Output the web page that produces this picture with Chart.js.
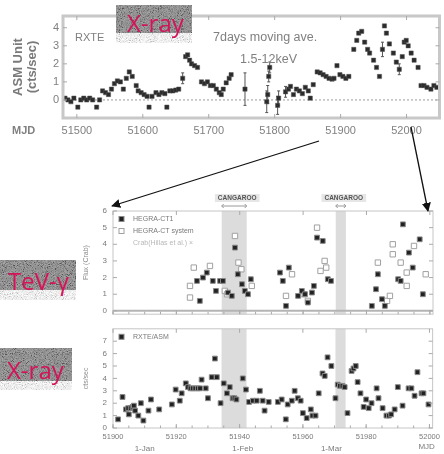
<!DOCTYPE html>
<html>
<head>
<meta charset="utf-8">
<script src="https://cdn.jsdelivr.net/npm/chart.js@4.4.1/dist/chart.umd.min.js"></script>
<style>
  body { margin: 0; background: #fff; }
  #page { position: relative; width: 444px; height: 454px; overflow: hidden; font-family: 'Liberation Sans', Arial, sans-serif; }
  canvas { position: absolute; left: 0; }
  .tag { position: absolute; overflow: hidden; background: #bbb; }
  .tag svg { position: absolute; left: 0; top: 0; width: 100%; height: 100%; }
  .tag .shade {
    position: absolute; left: 0; top: 0; right: 0; bottom: 0;
    background: linear-gradient(to bottom, rgba(125,125,125,.68) 0, rgba(125,125,125,.68) var(--cut), rgba(255,255,255,.75) var(--cut));
  }
  .tag span { position: absolute; color: #d4145a; font-family: 'Open Sans', sans-serif; font-size: 24px; line-height: 1; white-space: nowrap; }
  .note { position: absolute; color: #808080; white-space: nowrap; line-height: 1; }
  #arrows { position: absolute; left: 0; top: 0; }
</style>
</head>
<body>
<div id="page">
  <canvas id="asm" width="444" height="142" style="top:0"></canvas>
  <canvas id="tev" width="444" height="135" style="top:190px"></canvas>
  <canvas id="xte" width="444" height="136" style="top:318px"></canvas>

  <div class="note" style="left:12px;top:125px;font-size:11px;font-weight:bold">MJD</div>
  <div class="note" style="left:75px;top:32px;font-size:11px">RXTE</div>
  <div class="note" style="left:213px;top:31px;font-size:12.5px">7days moving ave.</div>
  <div class="note" style="left:240px;top:53px;font-size:12.5px">1.5-12keV</div>

  <div class="tag" style="left:116px;top:5px;width:76px;height:38px;--cut:74%">
    <svg><filter id="nz1"><feTurbulence type="fractalNoise" baseFrequency="1.1" numOctaves="2" seed="3"></feTurbulence><feColorMatrix type="matrix" values="2.2 0 0 0 -0.6 2.2 0 0 0 -0.6 2.2 0 0 0 -0.6 0 0 0 0 1"></feColorMatrix></filter><rect width="100%" height="100%" filter="url(#nz1)"></rect></svg>
    <div class="shade"></div><span style="left:11px;top:6px">X-ray</span>
  </div>
  <div class="tag" style="left:0;top:260px;width:76px;height:40px;--cut:75%">
    <svg><filter id="nz2"><feTurbulence type="fractalNoise" baseFrequency="1.1" numOctaves="2" seed="5"></feTurbulence><feColorMatrix type="matrix" values="2.2 0 0 0 -0.6 2.2 0 0 0 -0.6 2.2 0 0 0 -0.6 0 0 0 0 1"></feColorMatrix></filter><rect width="100%" height="100%" filter="url(#nz2)"></rect></svg>
    <div class="shade"></div><span style="left:8px;top:9px">TeV-γ</span>
  </div>
  <div class="tag" style="left:0;top:348px;width:72px;height:42px;--cut:79%">
    <svg><filter id="nz3"><feTurbulence type="fractalNoise" baseFrequency="1.1" numOctaves="2" seed="7"></feTurbulence><feColorMatrix type="matrix" values="2.2 0 0 0 -0.6 2.2 0 0 0 -0.6 2.2 0 0 0 -0.6 0 0 0 0 1"></feColorMatrix></filter><rect width="100%" height="100%" filter="url(#nz3)"></rect></svg>
    <div class="shade"></div><span style="left:7px;top:10px">X-ray</span>
  </div>

  <svg id="arrows" width="444" height="454">
    <defs>
      <marker id="ah" viewBox="0 0 10 10" refX="9" refY="5" markerWidth="7" markerHeight="7" orient="auto">
        <path d="M0,0 L10,5 L0,10 z" fill="#111"></path>
      </marker>
    </defs>
    <line x1="319" y1="141" x2="112" y2="206" stroke="#111" stroke-width="1.3" marker-end="url(#ah)"></line>
    <line x1="411" y1="127" x2="428" y2="211" stroke="#111" stroke-width="1.3" marker-end="url(#ah)"></line>
  </svg>
</div>

<script>
// RXTE/ASM 7-day moving average (top panel)
const asmXTicks = [51500, 51600, 51700, 51800, 51900, 52000];
const asmYTicks = [0, 1, 2, 3, 4];
const asmMjd = [51482, 51486.5, 51491, 51495.5, 51501.5, 51506, 51510.5, 51515, 51519.5, 51524,
  51530, 51534.5, 51539, 51543.5, 51548, 51552.5, 51557, 51561.5, 51566, 51570.5,
  51575, 51579.5, 51584, 51590, 51593, 51597.5, 51602, 51606.5, 51609.5, 51614,
  51620, 51624.5, 51629, 51633.5, 51636.5, 51641, 51645.5, 51650, 51654.5, 51660.5,
  51665, 51668, 51671, 51674, 51678.5, 51683, 51689, 51693.5, 51698, 51702.5,
  51707, 51711.5, 51716, 51719, 51722, 51726.5, 51731, 51734, 51755, 51788,
  51789.5, 51791, 51792.5, 51804.5, 51806, 51816.5, 51821, 51824, 51828.5, 51833,
  51837.5, 51842, 51846.5, 51851, 51854, 51858.5, 51864.5, 51869, 51873.5, 51878,
  51882.5, 51887, 51890, 51894.5, 51899, 51903.5, 51908, 51912.5, 51920, 51924.5,
  51927.5, 51932, 51936.5, 51941, 51944, 51950, 51954.5, 51959, 51963.5, 51966.5,
  51969.5, 51974, 51980, 51984.5, 51989, 51993.5, 51996.5, 51999.5, 52002.5, 52007,
  52011.5, 52017.5, 52022, 52026.5, 52031, 52037, 52041.5, 52046];
const asmRate = [0.1, 0.0, -0.1, 0.1, -0.4, 0.0, 0.1, 0.0, 0.1, 0.0,
  -0.4, 0.0, 0.5, 0.4, 0.3, 0.6, 0.9, 1.05, 1.0, 0.6,
  1.2, 1.55, 1.3, 0.8, 0.5, 0.4, 0.3, 0.2, -0.4, 0.2,
  0.4, 0.3, 0.4, 0.35, -0.4, 0.5, 0.5, 0.55, 0.6, 1.2,
  2.4, 2.5, 2.2, 2.0, 1.9, 1.8, 1.0, 0.9, 1.0, 0.8,
  0.8, 0.6, 0.4, 0.3, 0.6, 0.95, 1.2, 1.4, 0.6, -0.1,
  0.3, 1.3, 1.8, -0.3, 0.1, 0.45, 0.6, 0.75, 0.3, 0.6,
  0.5, 0.35, 0.7, 0.5, 0.1, 0.85, 1.55, 1.5, 1.4, 1.3,
  1.2, 1.15, 1.2, 1.9, 1.4, 1.3, 1.2, 1.3, 2.8, 3.3,
  3.7, 3.8, 3.2, 2.8, 2.6, 2.2, 1.8, 1.3, 2.8, 4.1,
  3.7, 3.1, 2.6, 2.1, 1.7, 2.4, 3.2, 3.3, 3.0, 2.6,
  2.2, 1.8, 0.8, 0.8, 0.7, 0.6, 0.8, 0.7];
const asmErr = [0, 0, 0, 0, 0, 0, 0, 0, 0, 0,
  0, 0, 0, 0, 0, 0, 0, 0, 0, 0,
  0, 0, 0, 0, 0, 0, 0, 0, 0, 0,
  0, 0, 0, 0, 0, 0, 0, 0, 0, 0.3,
  0, 0, 0, 0, 0, 0, 0, 0, 0, 0,
  0, 0, 0, 0, 0, 0, 0, 0, 0.9, 0.6,
  0.5, 0.3, 0.3, 0.5, 0.4, 0.3, 0, 0, 0, 0,
  0, 0, 0, 0, 0, 0, 0, 0, 0, 0,
  0, 0, 0, 0, 0, 0, 0, 0, 0, 0,
  0, 0, 0, 0, 0, 0, 0, 0, 0.4, 0,
  0, 0, 0, 0, 0.3, 0, 0, 0, 0, 0,
  0, 0, 0, 0, 0, 0, 0, 0];

// TeV / X-ray comparison (lower panels)
const mjdTicks = [51900, 51920, 51940, 51960, 51980, 52000];
const tevTicks = [0, 1, 2, 3, 4, 5, 6];
const xteTicks = [0, 1, 2, 3, 4, 5, 6, 7];
const monthMjd = [51910, 51941, 51969];
const monthNames = ['1-Jan', '1-Feb', '1-Mar'];

const bandStart = [51934.3, 51970.3];
const bandEnd = [51942.2, 51973.5];
const bandNames = ['CANGAROO', 'CANGAROO'];

const ct1Mjd = [51926.5, 51927.4, 51928.4, 51929.6, 51931.5, 51932.5, 51933.8, 51934.7, 51936.3, 51937.5,
  51938.5, 51939.4, 51940.7, 51941.6, 51942.6, 51943.5, 51952.7, 51953.6, 51954.6, 51955.5,
  51958.4, 51959.6, 51960.6, 51961.5, 51962.8, 51963.4, 51964.4, 51966.2, 51967.8, 51968.8,
  51981.7, 51983.0, 51983.6, 51984.9, 51985.8, 51990.0, 51990.8, 51991.5, 51993.4, 51994.6,
  51996.8, 51997.8];
const ct1Flux = [1.8, 0.6, 2.0, 2.3, 1.8, 1.2, 1.8, 1.8, 1.1, 0.9,
  3.8, 2.2, 1.6, 1.2, 1.0, 1.9, 2.3, 1.8, 0.3, 2.6,
  0.9, 1.2, 1.0, 0.5, 1.1, 1.5, 4.4, 4.2, 1.9, 1.8,
  0.3, 1.3, 2.2, 0.7, 0.3, 1.9, 1.8, 5.2, 3.5, 2.6,
  4.3, 1.0];
const ctsMjd = [51924.3, 51924.3, 51925.5, 51930.6, 51935.3, 51936.0, 51938.5, 51939.6, 51940.5, 51943.8,
  51954.6, 51956.5, 51960.2, 51961.5, 51964.4, 51965.5, 51966.8, 51967.3, 51983.6, 51986.5,
  51987.4, 51988.3, 51988.3, 51990.8, 51992.7, 51992.7, 51995.0, 51998.7];
const ctsFlux = [0.8, 1.5, 2.6, 2.7, 1.2, 1.0, 4.5, 2.9, 2.5, 1.5,
  0.9, 2.2, 1.0, 0.6, 5.0, 2.4, 3.0, 2.6, 2.9, 0.6,
  0.9, 3.4, 4.0, 2.9, 1.5, 2.3, 3.9, 2.2];

const xteMjd = [51901.6, 51903, 51904.1, 51904.8, 51905, 51905.6, 51906.2, 51906.6, 51907, 51908,
  51908.8, 51909.6, 51911.2, 51912, 51914.6, 51918.6, 51919.8, 51921.1, 51921.7, 51923,
  51923.7, 51924.5, 51925.2, 51926, 51926.8, 51927.5, 51928, 51929.3, 51930, 51931.2,
  51932.2, 51932.8, 51934, 51935, 51936, 51936.9, 51937.8, 51938.4, 51939, 51941,
  51942, 51943, 51944.2, 51945.4, 51946.4, 51947.3, 51947.9, 51949.2, 51952.1, 51953.3,
  51954.6, 51955.2, 51956.5, 51957.4, 51958.4, 51959.3, 51960, 51961.2, 51962.5, 51963,
  51964, 51965, 51966.2, 51966.9, 51967.8, 51969, 51970.3, 51971, 51971.7, 51972.5,
  51973.2, 51974.1, 51975.4, 51976, 51976.7, 51977.3, 51978.2, 51979.2, 51980, 51980.8,
  51981.7, 51983.3, 51983.9, 51985.2, 51986.4, 51987.2, 51987.9, 51989, 51990, 51991.5,
  51993.4, 51994.3, 51995.3, 51996.2, 51997.5, 51998.1, 51999.7];
const xteRate = [0.7, 2.5, 1.5, 1.6, 1.1, 1.6, 1.7, 1.8, 1.4, 1.0,
  2.0, 0.6, 1.4, 2.3, 1.5, 1.9, 3.1, 2.2, 2.8, 3.6,
  3.3, 3.2, 3.2, 3.2, 3.2, 3.2, 3.9, 3.2, 2.4, 4.1,
  5.6, 4.1, 2.0, 3.6, 2.8, 3.3, 2.4, 2.4, 2.3, 4.0,
  3.1, 2.1, 2.2, 2.2, 3.0, 2.2, 1.4, 2.1, 2.1, 2.3,
  0.7, 1.9, 2.2, 3.0, 2.4, 2.2, 1.2, 0.8, 1.5, 1.0,
  1.0, 2.8, 4.4, 4.2, 5.7, 5.0, 2.4, 3.5, 3.4, 3.4,
  3.3, 1.2, 4.6, 4.8, 5.0, 3.7, 2.8, 1.7, 2.3, 1.6,
  2.0, 3.2, 2.4, 1.6, 1.0, 1.0, 1.1, 1.5, 3.3, 1.8,
  3.2, 3.2, 2.6, 4.5, 2.8, 2.8, 1.9];

const toPoints = (xs, ys) => xs.map((x, i) => ({ x, y: ys[i] }));
const setTicks = (list) => (scale) => { scale.ticks = list.map((value) => ({ value })); };
const plainLabel = (value) => String(value);

// frame, inner ticks, bands, error bars and the in-panel legends
const panelPlugin = {
  id: 'panel',
  beforeDatasetsDraw(chart, args, opts) {
    const { ctx, chartArea: a, scales: { x, y } } = chart;
    ctx.save();

    (opts.bands ? bandStart : []).forEach((start, i) => {
      const x0 = x.getPixelForValue(start);
      const x1 = x.getPixelForValue(bandEnd[i]);
      ctx.fillStyle = '#dcdcdc';
      ctx.fillRect(x0, a.top, x1 - x0, a.bottom - a.top);
    });

    if (opts.zero === 'dotted') {
      ctx.strokeStyle = '#9a9a9a';
      ctx.lineWidth = 1;
      ctx.setLineDash([2, 2]);
      ctx.beginPath();
      ctx.moveTo(a.left, y.getPixelForValue(0));
      ctx.lineTo(a.right, y.getPixelForValue(0));
      ctx.stroke();
      ctx.setLineDash([]);
    } else if (opts.zero === 'solid') {
      ctx.strokeStyle = '#b4b4b4';
      ctx.lineWidth = 2;
      ctx.beginPath();
      ctx.moveTo(a.left, y.getPixelForValue(0));
      ctx.lineTo(a.right, y.getPixelForValue(0));
      ctx.stroke();
    }

    if (opts.errors) {
      const meta = chart.getDatasetMeta(0);
      ctx.strokeStyle = '#555';
      ctx.lineWidth = 1;
      opts.errors.forEach((err, i) => {
        if (!err) return;
        const px = meta.data[i].x;
        const yTop = y.getPixelForValue(asmRate[i] + err);
        const yBot = y.getPixelForValue(asmRate[i] - err);
        ctx.beginPath();
        ctx.moveTo(px, yTop);
        ctx.lineTo(px, yBot);
        ctx.moveTo(px - 1.5, yTop);
        ctx.lineTo(px + 1.5, yTop);
        ctx.moveTo(px - 1.5, yBot);
        ctx.lineTo(px + 1.5, yBot);
        ctx.stroke();
      });
    }
    ctx.restore();
  },
  afterDatasetsDraw(chart, args, opts) {
    const { ctx, chartArea: a, scales: { x, y } } = chart;
    ctx.save();

    // frame
    ctx.strokeStyle = opts.frameColor || '#c6c6c6';
    ctx.lineWidth = opts.frameWidth || 1;
    ctx.strokeRect(a.left, a.top, a.right - a.left, a.bottom - a.top);

    // inner tick marks
    ctx.strokeStyle = '#aaa';
    ctx.lineWidth = 1;
    ctx.beginPath();
    y.ticks.forEach((t) => {
      const py = y.getPixelForValue(t.value);
      ctx.moveTo(a.left, py);
      ctx.lineTo(a.left + 4, py);
      ctx.moveTo(a.right, py);
      ctx.lineTo(a.right - 4, py);
    });
    x.ticks.forEach((t) => {
      const px = x.getPixelForValue(t.value);
      ctx.moveTo(px, a.top);
      ctx.lineTo(px, a.top + 4);
      ctx.moveTo(px, a.bottom);
      ctx.lineTo(px, a.bottom - 4);
    });
    if (opts.minorStep) {
      for (let v = x.ticks[0].value; v < x.max; v += opts.minorStep) {
        const px = x.getPixelForValue(v);
        ctx.moveTo(px, a.bottom);
        ctx.lineTo(px, a.bottom - 2.5);
      }
    }
    ctx.stroke();

    // legend inside the panel (only datasets that carry a label)
    ctx.font = '7px "Liberation Sans", Arial, sans-serif';
    ctx.textBaseline = 'middle';
    let row = a.top + 8;
    chart.data.datasets.filter((ds) => ds.label).forEach((ds) => {
      ctx.fillStyle = ds.backgroundColor;
      ctx.strokeStyle = ds.borderColor;
      ctx.fillRect(a.left + 6, row - 2.5, 5, 5);
      ctx.strokeRect(a.left + 6, row - 2.5, 5, 5);
      ctx.fillStyle = '#7a7a7a';
      ctx.fillText(ds.label, a.left + 20, row);
      row += 12;
    });
    if (opts.extraLegend) {
      ctx.fillStyle = '#b8b8b8';
      ctx.fillText(opts.extraLegend, a.left + 20, row);
    }

    // observation windows above the TeV panel
    if (opts.bandLabels) {
      ctx.textAlign = 'center';
      ctx.font = 'bold 6.5px "Liberation Sans", Arial, sans-serif';
      bandNames.forEach((name, i) => {
        const x0 = x.getPixelForValue(bandStart[i]);
        const x1 = x.getPixelForValue(bandEnd[i]);
        const cx = (x0 + x1) / 2 + 3;
        const w = ctx.measureText(name).width + 6;
        ctx.fillStyle = '#e6e6e6';
        ctx.fillRect(cx - w / 2, a.top - 17, w, 8);
        ctx.fillStyle = '#555';
        ctx.fillText(name, cx, a.top - 13);
        ctx.strokeStyle = '#999';
        ctx.beginPath();
        ctx.moveTo(x0, a.top - 5);
        ctx.lineTo(x1, a.top - 5);
        ctx.moveTo(x0 + 2, a.top - 7);
        ctx.lineTo(x0, a.top - 5);
        ctx.lineTo(x0 + 2, a.top - 3);
        ctx.moveTo(x1 - 2, a.top - 7);
        ctx.lineTo(x1, a.top - 5);
        ctx.lineTo(x1 - 2, a.top - 3);
        ctx.stroke();
      });
    }

    // calendar dates under the MJD axis
    if (opts.months) {
      ctx.textAlign = 'center';
      ctx.fillStyle = '#7a7a7a';
      ctx.font = '8px "Liberation Sans", Arial, sans-serif';
      monthNames.forEach((name, i) => {
        ctx.fillText(name, x.getPixelForValue(monthMjd[i]), a.bottom + 21);
      });
      ctx.fillText('MJD', a.right - 6, a.bottom + 19);
    }
    ctx.restore();
  },
};

const baseOptions = (extra) => ({
  responsive: false,
  animation: false,
  devicePixelRatio: 1,
  plugins: {
    legend: { display: false },
    tooltip: { enabled: false },
    ...extra.plugins,
  },
  layout: extra.layout,
  scales: extra.scales,
});

new Chart(document.getElementById('asm'), {
  type: 'scatter',
  plugins: [panelPlugin],
  data: {
    datasets: [
      {
        label: '',
        data: toPoints(asmMjd, asmRate),
        pointStyle: 'rect',
        pointRadius: 3,
        backgroundColor: '#2b2b2b',
        borderColor: '#555',
        borderWidth: 0.5,
      },
    ],
  },
  options: baseOptions({
    layout: { padding: { top: 16, right: 0, left: 0, bottom: 0 } },
    plugins: {
      panel: { zero: 'dotted', errors: asmErr, frameColor: '#c8c8c8', frameWidth: 3 },
    },
    scales: {
      x: {
        type: 'linear',
        min: 51479,
        max: 52050,
        afterBuildTicks: setTicks(asmXTicks),
        afterFit: (s) => { s.height = 24; },
        grid: { display: false, drawTicks: false },
        border: { display: false },
        ticks: { color: '#808080', font: { size: 11 }, padding: 6, maxRotation: 0, autoSkip: false, callback: plainLabel },
      },
      y: {
        min: -1,
        max: 4.65,
        afterBuildTicks: setTicks(asmYTicks),
        afterFit: (s) => { s.width = 63; },
        grid: { display: false, drawTicks: false },
        border: { display: false },
        ticks: { color: '#808080', font: { size: 11 }, padding: 4 },
        title: {
          display: true,
          text: ['ASM Unit', '(cts/sec)'],
          color: '#7a7a7a',
          font: { size: 13, weight: 'bold', lineHeight: 1.05 },
          padding: { top: 12, bottom: 0 },
        },
      },
    },
  }),
});

new Chart(document.getElementById('tev'), {
  type: 'scatter',
  plugins: [panelPlugin],
  data: {
    datasets: [
      {
        label: 'HEGRA-CT1',
        data: toPoints(ct1Mjd, ct1Flux),
        pointStyle: 'rect',
        pointRadius: 3.4,
        backgroundColor: '#222',
        borderColor: '#8a8a8a',
        borderWidth: 1,
      },
      {
        label: 'HEGRA-CT system',
        data: toPoints(ctsMjd, ctsFlux),
        pointStyle: 'rect',
        pointRadius: 3.8,
        backgroundColor: '#fff',
        borderColor: '#a0a0a0',
        borderWidth: 1,
      },
    ],
  },
  options: baseOptions({
    layout: { padding: { top: 21, right: 11, left: 0, bottom: 3 } },
    plugins: {
      panel: { bands: true, bandLabels: true, zero: 'solid', minorStep: 5, extraLegend: 'Crab(Hillas et al.) ×' },
    },
    scales: {
      x: { type: 'linear', min: 51900, max: 52001, display: false, afterBuildTicks: setTicks(mjdTicks) },
      y: {
        min: -0.2,
        max: 6,
        afterBuildTicks: setTicks(tevTicks),
        afterFit: (s) => { s.width = 113; },
        grid: { display: false, drawTicks: false },
        border: { display: false },
        ticks: { color: '#7a7a7a', font: { size: 8 }, padding: 6 },
        title: {
          display: true,
          text: 'Flux (Crab)',
          color: '#8a8a8a',
          font: { size: 7 },
          padding: { top: 82, bottom: 0 },
        },
      },
    },
  }),
});

new Chart(document.getElementById('xte'), {
  type: 'scatter',
  plugins: [panelPlugin],
  data: {
    datasets: [
      {
        label: 'RXTE/ASM',
        data: toPoints(xteMjd, xteRate),
        pointStyle: 'rect',
        pointRadius: 3.4,
        backgroundColor: '#222',
        borderColor: '#8a8a8a',
        borderWidth: 1,
      },
    ],
  },
  options: baseOptions({
    layout: { padding: { top: 3, right: 11, left: 0, bottom: 0 } },
    plugins: {
      panel: { bands: true, months: true, minorStep: 5 },
    },
    scales: {
      x: {
        type: 'linear',
        min: 51900,
        max: 52001,
        afterBuildTicks: setTicks(mjdTicks),
        afterFit: (s) => { s.height = 26; },
        grid: { display: false, drawTicks: false },
        border: { display: false },
        ticks: { color: '#7a7a7a', font: { size: 7.5 }, padding: 4, maxRotation: 0, autoSkip: false, callback: plainLabel },
      },
      y: {
        min: 0,
        max: 8,
        afterBuildTicks: setTicks(xteTicks),
        afterFit: (s) => { s.width = 113; },
        grid: { display: false, drawTicks: false },
        border: { display: false },
        ticks: { color: '#7a7a7a', font: { size: 8 }, padding: 6 },
        title: {
          display: true,
          text: 'cts/sec',
          color: '#8a8a8a',
          font: { size: 7 },
          padding: { top: 82, bottom: 0 },
        },
      },
    },
  }),
});
</script>
</body>
</html>
